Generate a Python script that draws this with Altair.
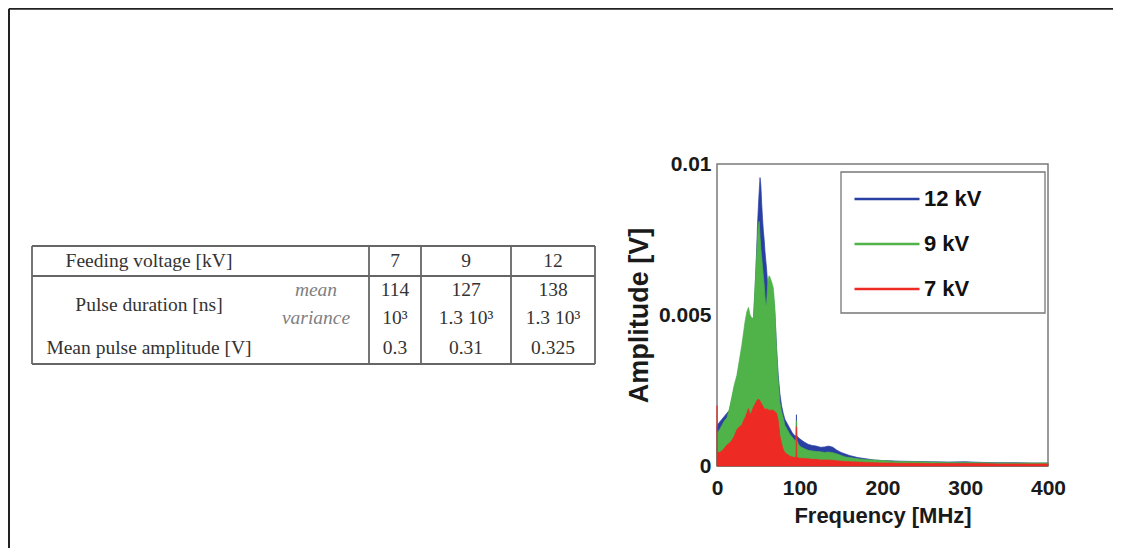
import altair as alt
import pandas as pd

# ---------------- spectrum data ----------------
freq_mhz = [0, 0.5, 3, 6, 9, 12, 15, 18, 21, 24, 27, 30, 32, 34, 36, 38, 40, 42, 44, 46,
            48, 49, 50, 51, 52, 53, 54, 55, 56, 57, 58, 59, 60, 61, 62, 63, 64, 66, 68, 70,
            72, 74, 76, 78, 80, 82, 85, 88, 91, 94, 95.5, 96, 96.5, 98, 100, 105, 110, 115, 120, 125,
            130, 135, 140, 145, 150, 155, 160, 170, 180, 190, 200, 210, 220, 240, 260, 280, 300, 320, 340, 360,
            380, 400]

# amplitudes in mV (converted to V below)
amp_12kv = [1.25, 1.35, 1.45, 1.55, 1.65, 1.75, 1.85, 2.2, 2.6, 2.9, 3.3, 3.8, 4.2, 4.5, 4.8, 5.0, 4.8, 4.7, 4.8, 5.8,
            7.2, 8.0, 8.6, 9.1, 9.55, 9.3, 8.7, 8.2, 7.8, 7.5, 7.1, 6.8, 6.5, 6.1, 5.8, 5.7, 5.9, 5.9, 5.7, 5.0,
            3.9, 3.0, 2.4, 2.0, 1.75, 1.55, 1.4, 1.25, 1.1, 1.0, 1.0, 1.7, 1.0, 0.95, 0.9, 0.8, 0.72, 0.68, 0.66, 0.62,
            0.63, 0.66, 0.62, 0.52, 0.45, 0.4, 0.35, 0.28, 0.24, 0.2, 0.18, 0.17, 0.16, 0.15, 0.14, 0.13, 0.14, 0.12, 0.11, 0.11,
            0.1, 0.1]
amp_9kv = [1.05, 1.1, 1.2, 1.35, 1.5, 1.6, 1.9, 2.3, 2.7, 3.0, 3.5, 4.0, 4.4, 4.8, 5.1, 5.25, 5.0, 4.9, 4.9, 6.0,
           7.0, 7.6, 8.0, 8.1, 7.6, 7.2, 6.9, 6.6, 6.3, 6.0, 5.6, 5.3, 5.4, 5.9, 6.2, 6.3, 6.25, 6.1, 5.9, 5.2,
           3.8, 2.8, 2.1, 1.8, 1.6, 1.35, 1.2, 1.05, 0.95, 0.85, 0.85, 1.5, 0.85, 0.75, 0.65, 0.58, 0.52, 0.5, 0.48, 0.47,
           0.45, 0.46, 0.44, 0.4, 0.35, 0.3, 0.28, 0.24, 0.21, 0.2, 0.18, 0.16, 0.15, 0.14, 0.13, 0.12, 0.12, 0.11, 0.1, 0.1,
           0.1, 0.1]
amp_7kv = [2.0, 0.45, 0.45, 0.5, 0.6, 0.7, 0.75, 0.85, 1.0, 1.2, 1.3, 1.35, 1.5, 1.6, 1.75, 1.9, 1.7, 1.8, 1.95, 2.05,
           2.15, 2.2, 2.2, 2.2, 2.15, 2.1, 2.05, 2.0, 1.95, 1.9, 1.88, 1.85, 1.9, 1.88, 1.85, 1.85, 1.85, 1.85, 1.85, 1.8,
           1.75, 1.5, 1.0, 0.75, 0.55, 0.45, 0.38, 0.33, 0.3, 0.28, 0.3, 1.3, 0.3, 0.27, 0.26, 0.25, 0.24, 0.22, 0.22, 0.2,
           0.2, 0.2, 0.19, 0.17, 0.16, 0.15, 0.14, 0.13, 0.12, 0.11, 0.1, 0.1, 0.09, 0.09, 0.08, 0.08, 0.08, 0.08, 0.07, 0.07,
           0.07, 0.07]

series_names = ["12 kV", "9 kV", "7 kV"]
series_colors = ["#2a3fa3", "#4fb34a", "#ee2a24"]
x_ticks = [0, 100, 200, 300, 400]
y_ticks = [0, 0.005, 0.01]

# ---------------- table content ----------------
table_header = ["Feeding voltage [kV]", "7", "9", "12"]
row_labels = ["Pulse duration [ns]", "Mean pulse amplitude [V]"]
stat_labels = ["mean", "variance"]
duration_mean = ["114", "127", "138"]
duration_variance = ["10³", "1.3 10³", "1.3 10³"]
mean_amplitude = ["0.3", "0.31", "0.325"]

# ---------------- layout (page pixels) ----------------
PLOT_LEFT, PLOT_TOP = 717, 164
PLOT_W, PLOT_H = 331, 302


def px(x):
    return x - PLOT_LEFT


def py(y):
    return y - PLOT_TOP


label_cx = 149
stat_cx = 316
col_cx = [395, 466, 553]
row_y = {"header": 261, "mean": 290, "variance": 318, "amp": 348, "duration": 305}
tab_left, tab_right = 32, 595
tab_top, tab_mid, tab_bottom = 246, 276, 364
tab_vlines = [32, 369, 421, 511, 595]

# ---------------- build frames ----------------
rows = []
for s, a in zip(series_names, [amp_12kv, amp_9kv, amp_7kv]):
    assert len(a) == len(freq_mhz)
    for f, v in zip(freq_mhz, a):
        rows.append({"freq": f, "amp": v / 1000.0, "series": s})
spec_df = pd.DataFrame(rows)

text_rows = [
    {"t": table_header[0], "x": px(label_cx), "y": py(row_y["header"])},
    {"t": row_labels[0], "x": px(label_cx), "y": py(row_y["duration"])},
    {"t": row_labels[1], "x": px(label_cx), "y": py(row_y["amp"])},
]
for i in range(3):
    text_rows.append({"t": table_header[i + 1], "x": px(col_cx[i]), "y": py(row_y["header"])})
    text_rows.append({"t": duration_mean[i], "x": px(col_cx[i]), "y": py(row_y["mean"])})
    text_rows.append({"t": duration_variance[i], "x": px(col_cx[i]), "y": py(row_y["variance"])})
    text_rows.append({"t": mean_amplitude[i], "x": px(col_cx[i]), "y": py(row_y["amp"])})
text_df = pd.DataFrame(text_rows)
stat_df = pd.DataFrame({"t": stat_labels, "x": [px(stat_cx)] * 2,
                        "y": [py(row_y["mean"]), py(row_y["variance"])]})

hline_df = pd.DataFrame({"x": [px(tab_left)] * 3, "x2": [px(tab_right)] * 3,
                         "y": [py(tab_top), py(tab_mid), py(tab_bottom)]})
vline_df = pd.DataFrame({"x": [px(v) for v in tab_vlines], "y": [py(tab_top)] * 5,
                         "y2": [py(tab_bottom)] * 5})

frame_h = pd.DataFrame({"x": [px(9)], "x2": [px(1113)], "y": [py(8.7)]})
frame_v = pd.DataFrame({"x": [px(9)], "y": [py(8.7)], "y2": [py(548)]})

XN = alt.X("x:Q", scale=None, axis=None)
YN = alt.Y("y:Q", scale=None, axis=None)

frame_layers = [
    alt.Chart(frame_h).mark_rule(color="#222", strokeWidth=2).encode(
        x=XN, x2="x2:Q", y=YN),
    alt.Chart(frame_v).mark_rule(color="#222", strokeWidth=2).encode(
        x=XN, y=YN, y2="y2:Q"),
]

table_layers = [
    alt.Chart(hline_df).mark_rule(color="#666", strokeWidth=1.8).encode(
        x=XN, x2="x2:Q", y=YN),
    alt.Chart(vline_df).mark_rule(color="#666", strokeWidth=1.8).encode(
        x=XN, y=YN, y2="y2:Q"),
    alt.Chart(text_df).mark_text(font="Liberation Serif", fontSize=19.5, color="#333",
                                 align="center", baseline="middle").encode(
        x=XN, y=YN, text="t:N"),
    alt.Chart(stat_df).mark_text(font="Liberation Serif", fontSize=19.5, fontStyle="italic",
                                 color="#808080", align="center", baseline="middle").encode(
        x=XN, y=YN, text="t:N"),
]

axis_common = dict(labelFont="Liberation Sans", labelFontWeight="bold", labelColor="#1a1a1a",
                   titleFont="Liberation Sans", titleFontWeight="bold", titleColor="#1a1a1a",
                   domain=False, ticks=False, tickSize=0, grid=False)

color_scale = alt.Scale(domain=series_names, range=series_colors)
legend_def = alt.Legend(title=None, orient="none", legendX=136, legendY=1,
                        symbolType="stroke", symbolSize=4225,
                        symbolStrokeWidth=2.5, labelFontSize=22,
                        labelFont="Liberation Sans", labelFontWeight="bold",
                        labelColor="#111", labelOffset=3, rowPadding=0,
                        padding=0)

area_layers = []
for s in series_names:
    area_layers.append(
        alt.Chart(spec_df).transform_filter(alt.datum.series == s).mark_area(
            interpolate="linear", opacity=1, strokeWidth=0.7).encode(
            x=alt.X("freq:Q", scale=alt.Scale(domain=[0, 400], nice=False),
                    axis=alt.Axis(values=x_ticks, title="Frequency [MHz]", labelFontSize=21,
                                  labelPadding=11, titleFontSize=22, titlePadding=7,
                                  labelFlush=False, **axis_common)),
            y=alt.Y("amp:Q", stack=None, scale=alt.Scale(domain=[0, 0.01], nice=False),
                    axis=alt.Axis(values=y_ticks, format=".3~f", title="Amplitude [V]",
                                  labelFontSize=21, labelPadding=6, titleFontSize=27,
                                  titlePadding=5, labelFlush=False, **axis_common)),
            color=alt.Color("series:N", scale=color_scale, sort=series_names, legend=legend_def),
            stroke=alt.Stroke("series:N", scale=color_scale, sort=series_names, legend=legend_def),
        )
    )

legend_box = alt.Chart(pd.DataFrame({"k": [0]})).mark_rect(
    fill="white", stroke="#777", strokeWidth=1.3).encode(
    x=alt.value(px(841)), x2=alt.value(px(1045)), y=alt.value(py(172)), y2=alt.value(py(313)))

chart = alt.layer(*frame_layers, *table_layers, *area_layers, legend_box).properties(
    width=PLOT_W, height=PLOT_H,
    autosize=alt.AutoSizeParams(type="none"),
    padding={"left": PLOT_LEFT - 8, "top": PLOT_TOP - 8, "right": 1113 - PLOT_LEFT - PLOT_W,
             "bottom": 548 - PLOT_TOP - PLOT_H},
    background="white",
).configure_view(stroke="#7a7a7a", strokeWidth=1.5)

chart.save("out.html", embed_options={"renderer": "svg", "actions": False})
